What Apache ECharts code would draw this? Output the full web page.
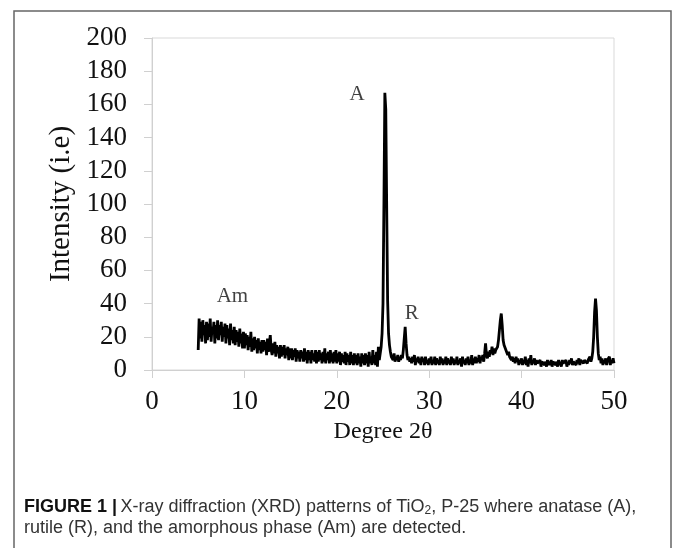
<!DOCTYPE html>
<html>
<head>
<meta charset="utf-8">
<script src="https://cdn.jsdelivr.net/npm/echarts@6/dist/echarts.min.js"></script>
<style>
  html, body { margin: 0; padding: 0; background: #fff; }
  #chart { width: 673px; height: 548px; }
</style>
</head>
<body>
<div id="chart"></div>
<script>
// Sampling grid of the diffraction scan (degrees 2θ)
const angleStart = 5.0;
const angleStep = 0.1;

// Intensity readings (i.e.), one row per degree, 10 samples per row
const intensity05to15 = [
  12, 31, 19, 29, 17, 30, 21, 27, 16, 29,
  18, 28, 20, 31, 17, 26, 22, 29, 16, 27,
  19, 30, 18, 27, 21, 29, 17, 26, 20, 28,
  16, 27, 19, 25, 15, 28, 18, 24, 16, 26,
  15, 24, 17, 23, 14, 25, 16, 22, 13, 23,
  13, 22, 15, 21, 12, 20, 14, 23, 11, 19,
  12, 20, 13, 18, 10, 19, 12, 17, 10, 18,
  11, 18, 12, 17, 9, 19, 11, 16, 21, 12,
  9, 16, 10, 17, 8, 15, 10, 14, 7, 15,
  8, 14, 9, 15, 7, 13, 9, 14, 6, 13
];
const intensity15to25 = [
  7, 13, 6, 12, 8, 13, 5, 12, 7, 11,
  5, 12, 7, 11, 5, 13, 6, 11, 4, 12,
  6, 11, 4, 12, 6, 10, 5, 12, 4, 11,
  5, 12, 6, 10, 4, 11, 5, 13, 4, 10,
  6, 11, 4, 12, 5, 10, 4, 11, 5, 12,
  4, 10, 5, 11, 3, 10, 5, 9, 4, 11,
  3, 10, 5, 9, 3, 11, 4, 9, 3, 10,
  4, 9, 3, 10, 4, 8, 2, 10, 4, 9,
  3, 10, 4, 9, 2, 11, 4, 8, 3, 12,
  4, 9, 3, 11, 2, 14, 6, 10, 14, 22
];
const intensity25to35 = [
  40, 100, 167, 157, 98, 42, 22, 15, 11, 8,
  9, 6, 10, 5, 8, 6, 9, 5, 8, 6,
  9, 7, 12, 19, 26, 16, 9, 6, 8, 5,
  7, 4, 8, 5, 9, 3, 7, 5, 8, 4,
  7, 3, 8, 5, 7, 3, 8, 4, 6, 3,
  7, 4, 8, 3, 6, 4, 8, 3, 7, 4,
  6, 3, 8, 4, 7, 3, 6, 4, 8, 3,
  7, 4, 6, 3, 8, 4, 7, 3, 6, 4,
  8, 3, 6, 4, 7, 2, 8, 4, 6, 3,
  7, 4, 8, 3, 6, 4, 9, 3, 7, 4
];
const intensity35to45 = [
  8, 4, 7, 5, 9, 4, 8, 6, 9, 5,
  10, 16, 9, 7, 11, 8, 12, 10, 14, 9,
  13, 10, 12, 11, 14, 18, 24, 30, 34, 27,
  18, 15, 16, 12, 13, 9, 11, 8, 9, 6,
  8, 5, 7, 4, 8, 5, 7, 3, 6, 4,
  7, 3, 6, 4, 8, 3, 6, 2, 7, 4,
  9, 3, 6, 4, 7, 3, 6, 4, 5, 3,
  6, 2, 5, 4, 6, 3, 5, 2, 6, 3,
  5, 3, 6, 2, 5, 4, 6, 3, 5, 2,
  6, 3, 5, 2, 6, 4, 5, 3, 6, 2
];
const intensity45to50 = [
  5, 3, 6, 4, 7, 3, 5, 4, 6, 3,
  6, 4, 7, 3, 6, 5, 7, 4, 6, 5,
  7, 4, 6, 5, 8, 5, 7, 11, 20, 35,
  43, 36, 20, 10, 6, 8, 4, 7, 3, 6,
  4, 7, 3, 6, 5, 8, 3, 6, 4, 7,
  4
];

// Axis ticks
const xTicks = [0, 10, 20, 30, 40, 50];
const yTicks = [0, 20, 40, 60, 80, 100, 120, 140, 160, 180, 200];

// Phase annotations
const annotationText = ['A', 'Am', 'R'];
const annotationAngle = [22.2, 8.7, 28.1];
const annotationIntensity = [166, 44, 34];

const intensity = [].concat(intensity05to15, intensity15to25, intensity25to35, intensity35to45, intensity45to50);
const pattern = intensity.map((v, i) => [+(angleStart + i * angleStep).toFixed(1), v]);
const annotations = annotationText.map((t, i) => ({ value: [annotationAngle[i], annotationIntensity[i]], name: t }));

const serif = '"Liberation Serif", "Times New Roman", serif';
const narrow = '"Liberation Sans Narrow", "Arial Narrow", "Liberation Sans", sans-serif';

const chart = echarts.init(document.getElementById('chart'), null, { renderer: 'canvas' });
chart.setOption({
  animation: false,
  backgroundColor: '#fff',
  grid: { left: 152, right: 59, top: 38, bottom: 178, show: true, borderColor: '#d9d9d9', borderWidth: 1, backgroundColor: 'transparent' },
  xAxis: {
    type: 'value', min: xTicks[0], max: xTicks[xTicks.length - 1], interval: 10,
    name: 'Degree 2θ', nameLocation: 'middle', nameGap: 50,
    nameTextStyle: { fontFamily: serif, fontSize: 24, color: '#111' },
    axisLine: { show: true, lineStyle: { color: '#d0d0d0', width: 1 } },
    axisTick: { show: true, length: 8, lineStyle: { color: '#d0d0d0' } },
    axisLabel: { fontFamily: serif, fontSize: 27, color: '#111', margin: 18 },
    splitLine: { show: false }
  },
  yAxis: {
    type: 'value', min: yTicks[0], max: yTicks[yTicks.length - 1], interval: 20,
    name: 'Intensity (i.e)', nameLocation: 'middle', nameGap: 68, nameRotate: 90,
    nameTextStyle: { fontFamily: serif, fontSize: 29, color: '#111' },
    axisLine: { show: true, lineStyle: { color: '#d0d0d0', width: 1 } },
    axisTick: { show: true, length: 8, lineStyle: { color: '#d0d0d0' } },
    axisLabel: { fontFamily: serif, fontSize: 27, color: '#111', margin: 25 },
    splitLine: { show: false }
  },
  series: [
    {
      type: 'line', data: pattern, showSymbol: false, symbol: 'none',
      lineStyle: { color: '#000', width: 2.8 }, z: 3
    },
    {
      type: 'scatter', data: annotations, symbolSize: 0,
      label: { show: true, position: 'inside', formatter: p => p.name, fontFamily: serif, fontSize: 21, color: '#111' },
      z: 4
    }
  ],
  graphic: [
    { type: 'rect', shape: { x: 14, y: 11, width: 657, height: 560 }, style: { fill: 'none', stroke: '#666', lineWidth: 1.5 }, silent: true },
    {
      type: 'text', x: 24, y: 496,
      style: {
        text: '{b|FIGURE 1 |} {r|X-ray diffraction (XRD) patterns of TiO}{s|2}{r|, P-25 where anatase (A),}',
        rich: {
          b: { fontFamily: narrow, fontSize: 18, fontWeight: 'bold', fill: '#111', lineHeight: 22 },
          r: { fontFamily: narrow, fontSize: 18, fill: '#333', lineHeight: 22 },
          s: { fontFamily: narrow, fontSize: 12, fill: '#333', lineHeight: 22, padding: [8, 0, 0, 0] }
        }
      }
    },
    {
      type: 'text', x: 24, y: 519,
      style: { text: 'rutile (R), and the amorphous phase (Am) are detected.', fontFamily: narrow, fontSize: 18, fill: '#333' }
    }
  ]
});
</script>
</body>
</html>
